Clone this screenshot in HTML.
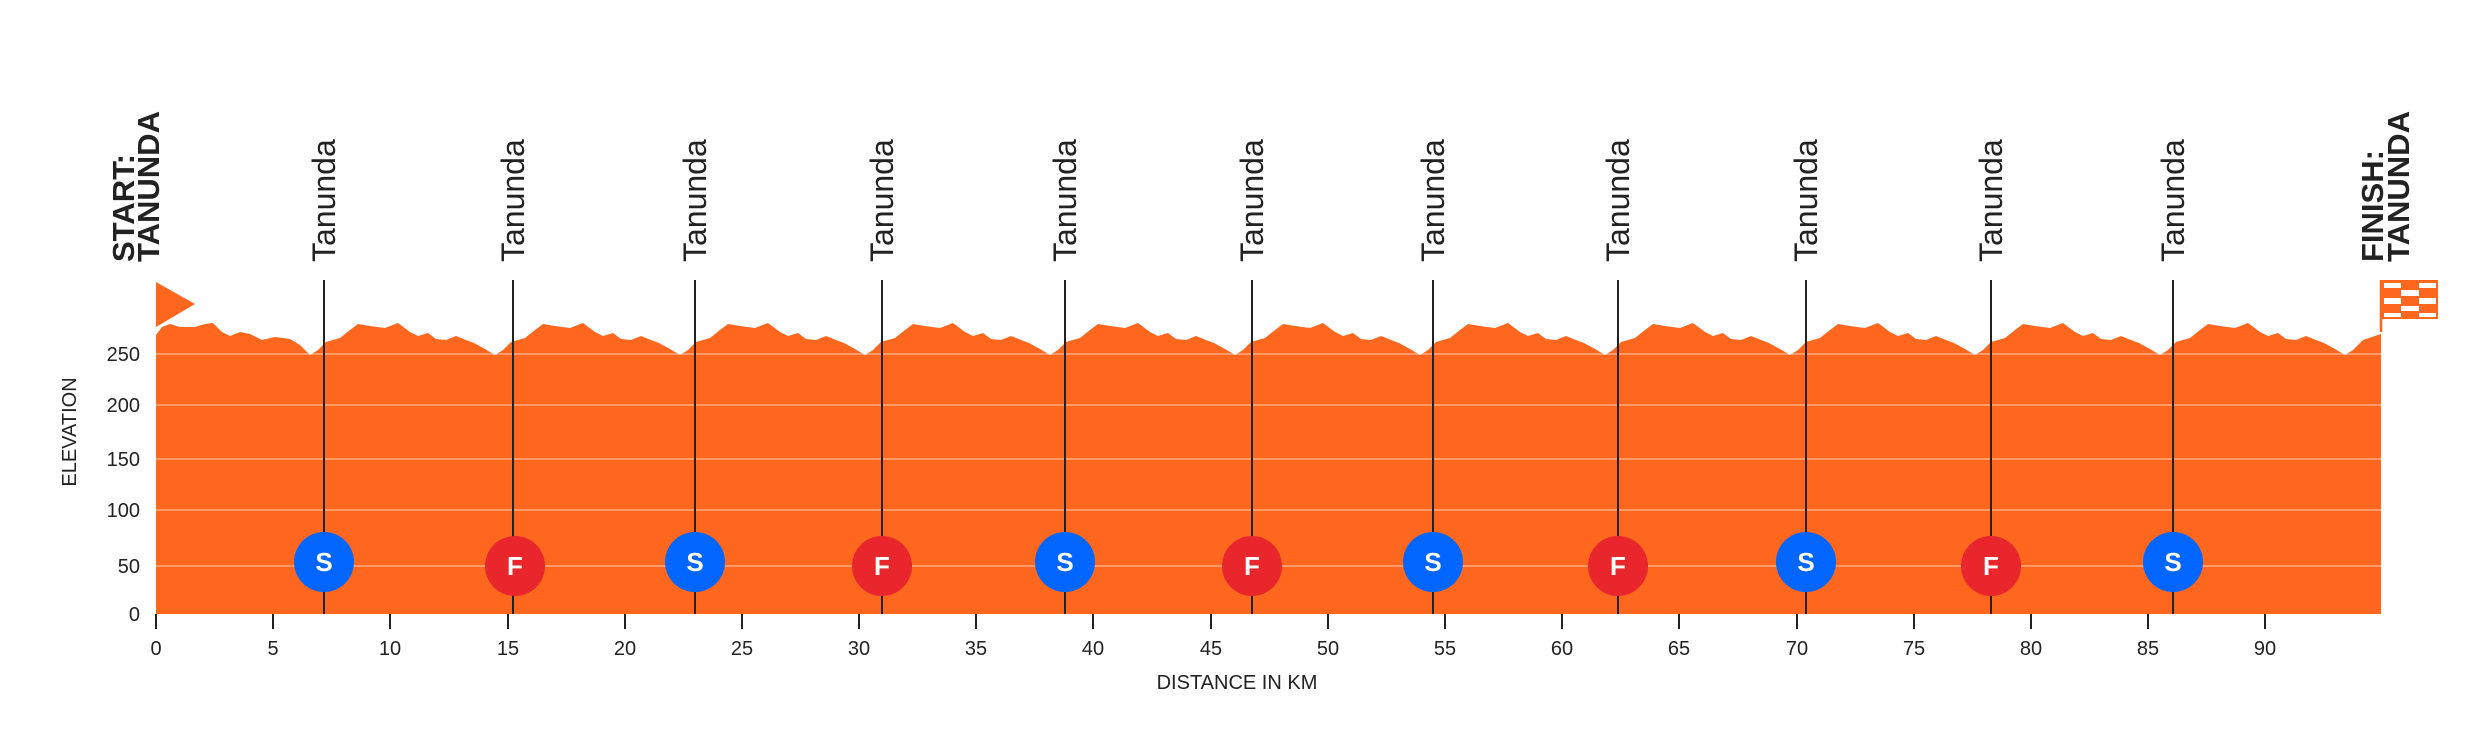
<!DOCTYPE html>
<html><head><meta charset="utf-8"><style>
html,body{margin:0;padding:0;background:#fff;}
svg{display:block;font-family:"Liberation Sans",sans-serif;}
</style></head><body>
<svg width="2482" height="729" viewBox="0 0 2482 729" xmlns="http://www.w3.org/2000/svg">
<path fill="#FF671F" d="M156,614 L156,335 L162,327 L170,324 L180,327 L195,327 L205,324 L213,323 L222,332 L230,336 L240,332 L250,334 L262,340 L275,337 L290,339 L300,345 L310,355
l8,-5 l8,-8 l14,-4 l10,-8 l8,-6 l12,2 l15,2 l13,-5 l12,9 l8,4 l10,-3 l8,6 l10,1 l10,-4 l10,4 l8,3 l11,6 l10,6
l8,-5 l8,-8 l14,-4 l10,-8 l8,-6 l12,2 l15,2 l13,-5 l12,9 l8,4 l10,-3 l8,6 l10,1 l10,-4 l10,4 l8,3 l11,6 l10,6
l8,-5 l8,-8 l14,-4 l10,-8 l8,-6 l12,2 l15,2 l13,-5 l12,9 l8,4 l10,-3 l8,6 l10,1 l10,-4 l10,4 l8,3 l11,6 l10,6
l8,-5 l8,-8 l14,-4 l10,-8 l8,-6 l12,2 l15,2 l13,-5 l12,9 l8,4 l10,-3 l8,6 l10,1 l10,-4 l10,4 l8,3 l11,6 l10,6
l8,-5 l8,-8 l14,-4 l10,-8 l8,-6 l12,2 l15,2 l13,-5 l12,9 l8,4 l10,-3 l8,6 l10,1 l10,-4 l10,4 l8,3 l11,6 l10,6
l8,-5 l8,-8 l14,-4 l10,-8 l8,-6 l12,2 l15,2 l13,-5 l12,9 l8,4 l10,-3 l8,6 l10,1 l10,-4 l10,4 l8,3 l11,6 l10,6
l8,-5 l8,-8 l14,-4 l10,-8 l8,-6 l12,2 l15,2 l13,-5 l12,9 l8,4 l10,-3 l8,6 l10,1 l10,-4 l10,4 l8,3 l11,6 l10,6
l8,-5 l8,-8 l14,-4 l10,-8 l8,-6 l12,2 l15,2 l13,-5 l12,9 l8,4 l10,-3 l8,6 l10,1 l10,-4 l10,4 l8,3 l11,6 l10,6
l8,-5 l8,-8 l14,-4 l10,-8 l8,-6 l12,2 l15,2 l13,-5 l12,9 l8,4 l10,-3 l8,6 l10,1 l10,-4 l10,4 l8,3 l11,6 l10,6
l8,-5 l8,-8 l14,-4 l10,-8 l8,-6 l12,2 l15,2 l13,-5 l12,9 l8,4 l10,-3 l8,6 l10,1 l10,-4 l10,4 l8,3 l11,6 l10,6
l8,-5 l8,-8 l14,-4 l10,-8 l8,-6 l12,2 l15,2 l13,-5 l12,9 l8,4 l10,-3 l8,6 l10,1 l10,-4 l10,4 l8,3 l11,6 l10,6
l8,-5 l10,-10 l18,-6 L2381,614 Z"/>
<g stroke="#ffffff" stroke-opacity="0.45" stroke-width="1.5">
<line x1="156" x2="2381" y1="354" y2="354"/><line x1="156" x2="2381" y1="405" y2="405"/>
<line x1="156" x2="2381" y1="459" y2="459"/><line x1="156" x2="2381" y1="510" y2="510"/>
<line x1="156" x2="2381" y1="566" y2="566"/>
</g>
<g font-size="20" fill="#222" text-anchor="end">
<text x="140" y="361">250</text><text x="140" y="412">200</text><text x="140" y="466">150</text>
<text x="140" y="517">100</text><text x="140" y="573">50</text><text x="140" y="621">0</text>
</g>
<text x="0" y="0" font-size="20" fill="#222" text-anchor="middle" transform="translate(76,432) rotate(-90)">ELEVATION</text>
<g stroke="#222" stroke-width="2">
<line x1="156" x2="156" y1="614" y2="629"/><line x1="273" x2="273" y1="614" y2="629"/>
<line x1="390" x2="390" y1="614" y2="629"/><line x1="508" x2="508" y1="614" y2="629"/>
<line x1="625" x2="625" y1="614" y2="629"/><line x1="742" x2="742" y1="614" y2="629"/>
<line x1="859" x2="859" y1="614" y2="629"/><line x1="976" x2="976" y1="614" y2="629"/>
<line x1="1093" x2="1093" y1="614" y2="629"/><line x1="1211" x2="1211" y1="614" y2="629"/>
<line x1="1328" x2="1328" y1="614" y2="629"/><line x1="1445" x2="1445" y1="614" y2="629"/>
<line x1="1562" x2="1562" y1="614" y2="629"/><line x1="1679" x2="1679" y1="614" y2="629"/>
<line x1="1797" x2="1797" y1="614" y2="629"/><line x1="1914" x2="1914" y1="614" y2="629"/>
<line x1="2031" x2="2031" y1="614" y2="629"/><line x1="2148" x2="2148" y1="614" y2="629"/>
<line x1="2265" x2="2265" y1="614" y2="629"/>
</g>
<g font-size="20" fill="#222" text-anchor="middle">
<text x="156" y="655">0</text><text x="273" y="655">5</text><text x="390" y="655">10</text>
<text x="508" y="655">15</text><text x="625" y="655">20</text><text x="742" y="655">25</text>
<text x="859" y="655">30</text><text x="976" y="655">35</text><text x="1093" y="655">40</text>
<text x="1211" y="655">45</text><text x="1328" y="655">50</text><text x="1445" y="655">55</text>
<text x="1562" y="655">60</text><text x="1679" y="655">65</text><text x="1797" y="655">70</text>
<text x="1914" y="655">75</text><text x="2031" y="655">80</text><text x="2148" y="655">85</text>
<text x="2265" y="655">90</text>
<text x="1237" y="689">DISTANCE IN KM</text>
</g>
<g stroke="#222" stroke-width="2">
<line x1="324" x2="324" y1="280" y2="614"/><line x1="513" x2="513" y1="280" y2="614"/>
<line x1="695" x2="695" y1="280" y2="614"/><line x1="882" x2="882" y1="280" y2="614"/>
<line x1="1065" x2="1065" y1="280" y2="614"/><line x1="1252" x2="1252" y1="280" y2="614"/>
<line x1="1433" x2="1433" y1="280" y2="614"/><line x1="1618" x2="1618" y1="280" y2="614"/>
<line x1="1806" x2="1806" y1="280" y2="614"/><line x1="1991" x2="1991" y1="280" y2="614"/>
<line x1="2173" x2="2173" y1="280" y2="614"/>
</g>
<g font-size="32" fill="#222">
<text transform="translate(335,262) rotate(-90)">Tanunda</text>
<text transform="translate(524,262) rotate(-90)">Tanunda</text>
<text transform="translate(706,262) rotate(-90)">Tanunda</text>
<text transform="translate(893,262) rotate(-90)">Tanunda</text>
<text transform="translate(1076,262) rotate(-90)">Tanunda</text>
<text transform="translate(1263,262) rotate(-90)">Tanunda</text>
<text transform="translate(1444,262) rotate(-90)">Tanunda</text>
<text transform="translate(1629,262) rotate(-90)">Tanunda</text>
<text transform="translate(1817,262) rotate(-90)">Tanunda</text>
<text transform="translate(2002,262) rotate(-90)">Tanunda</text>
<text transform="translate(2184,262) rotate(-90)">Tanunda</text>
</g>
<g font-size="31" font-weight="bold" fill="#222">
<text transform="translate(134,262) rotate(-90)">START:</text>
<text transform="translate(159,262) rotate(-90)">TANUNDA</text>
<text transform="translate(2383,262) rotate(-90)">FINISH:</text>
<text transform="translate(2409,262) rotate(-90)">TANUNDA</text>
</g>
<g font-size="26" font-weight="bold" fill="#fff" text-anchor="middle">
<circle cx="324" cy="562" r="30" fill="#0066FF"/><text x="324" y="571">S</text>
<circle cx="515" cy="566" r="30" fill="#E8262B"/><text x="515" y="575">F</text>
<circle cx="695" cy="562" r="30" fill="#0066FF"/><text x="695" y="571">S</text>
<circle cx="882" cy="566" r="30" fill="#E8262B"/><text x="882" y="575">F</text>
<circle cx="1065" cy="562" r="30" fill="#0066FF"/><text x="1065" y="571">S</text>
<circle cx="1252" cy="566" r="30" fill="#E8262B"/><text x="1252" y="575">F</text>
<circle cx="1433" cy="562" r="30" fill="#0066FF"/><text x="1433" y="571">S</text>
<circle cx="1618" cy="566" r="30" fill="#E8262B"/><text x="1618" y="575">F</text>
<circle cx="1806" cy="562" r="30" fill="#0066FF"/><text x="1806" y="571">S</text>
<circle cx="1991" cy="566" r="30" fill="#E8262B"/><text x="1991" y="575">F</text>
<circle cx="2173" cy="562" r="30" fill="#0066FF"/><text x="2173" y="571">S</text>
</g>
<polygon points="156,282 195,304 156,327" fill="#FF671F"/>
<line x1="2381" x2="2381" y1="280" y2="332" stroke="#FF671F" stroke-width="2.5"/>
<rect x="2381" y="280" width="57" height="39" fill="#FF671F"/>
<g fill="#fff">
<rect x="2384" y="283" width="17" height="5"/><rect x="2419" y="283" width="17" height="5"/>
<rect x="2401" y="290" width="18" height="6"/>
<rect x="2384" y="298" width="17" height="6"/><rect x="2419" y="298" width="17" height="6"/>
<rect x="2401" y="306" width="18" height="5"/>
<rect x="2384" y="313" width="17" height="4"/><rect x="2419" y="313" width="17" height="4"/>
</g>
</svg>
</body></html>
